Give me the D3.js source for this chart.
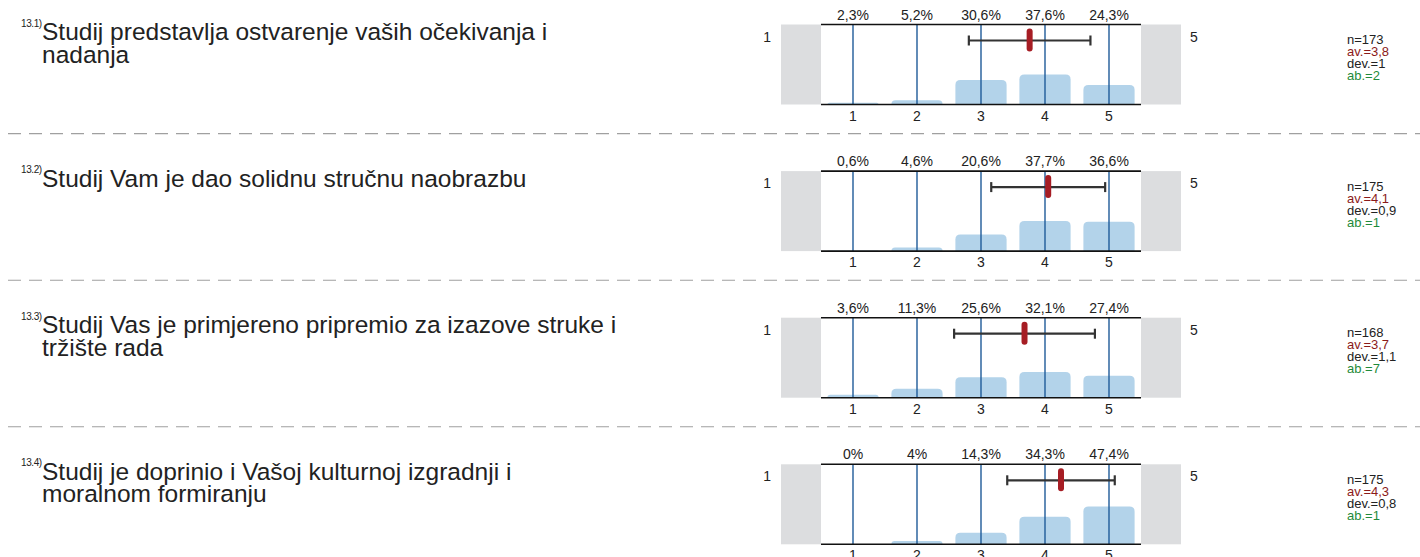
<!DOCTYPE html>
<html>
<head>
<meta charset="utf-8">
<script src="https://cdn.jsdelivr.net/npm/d3@7/dist/d3.min.js"></script>
<style>
  html, body { margin: 0; padding: 0; background: #fff; }
  svg { display: block; font-family: "Liberation Sans", Arial, Helvetica, sans-serif; }
</style>
</head>
<body>
<svg id="chart" width="1420" height="557"></svg>
<script>
// Survey items 13.1 – 13.4 (scale 1–5)
const itemCodes = ["13.1)", "13.2)", "13.3)", "13.4)"];
const itemLines = [
  ["Studij predstavlja ostvarenje vaših očekivanja i", "nadanja"],
  ["Studij Vam je dao solidnu stručnu naobrazbu"],
  ["Studij Vas je primjereno pripremio za izazove struke i", "tržište rada"],
  ["Studij je doprinio i Vašoj kulturnoj izgradnji i", "moralnom formiranju"]
];
const categories = [1, 2, 3, 4, 5];
const percents = [
  [2.3, 5.2, 30.6, 37.6, 24.3],
  [0.6, 4.6, 20.6, 37.7, 36.6],
  [3.6, 11.3, 25.6, 32.1, 27.4],
  [0, 4, 14.3, 34.3, 47.4]
];
const counts = [173, 175, 168, 175];
const means = [3.76, 4.05, 3.68, 4.25];
const deviations = [0.95, 0.89, 1.10, 0.84];
const abstentions = [2, 1, 7, 1];
const scaleEnds = ["1", "5"];

const svg = d3.select("#chart");
const W = 1420;

// layout
const rowStep = 146.6;
const firstTop = 24.5;
const panelH = 80;
const plotX0 = 821, plotX1 = 1141;
const sideW = 40;

const x = d3.scaleBand().domain(categories).range([plotX0, plotX1])
  .paddingInner(0.2).paddingOuter(0.1);
const xMean = d3.scaleLinear().domain([1, 5])
  .range([x(1) + x.bandwidth() / 2, x(5) + x.bandwidth() / 2]);

const fmt = v => {
  const r = Math.round(v * 10) / 10;
  return String(r).replace(".", ",");
};

function topRoundedBar(x0, y0, w, h, r) {
  r = Math.min(r, h, w / 2);
  if (h <= 0) return "";
  return `M${x0},${y0 + h}V${y0 + r}Q${x0},${y0} ${x0 + r},${y0}H${x0 + w - r}Q${x0 + w},${y0} ${x0 + w},${y0 + r}V${y0 + h}Z`;
}

itemCodes.forEach((code, i) => {
  const top = firstTop + i * rowStep;
  const bottom = top + panelH;
  const y = d3.scaleLinear().domain([0, 100]).range([bottom, top]);
  const g = svg.append("g");

  // separator
  if (i > 0) {
    g.append("line")
      .attr("x1", 8).attr("x2", W).attr("y1", top - 37.5).attr("y2", top - 37.5)
      .attr("stroke", "#a0a0a0").attr("stroke-width", 1.1)
      .attr("stroke-dasharray", "13,8");
  }

  // question text
  g.append("text").attr("x", 21).attr("y", top + 2)
    .attr("font-size", 10).attr("letter-spacing", -0.4).attr("fill", "#222").text(code);
  const t = g.append("text").attr("x", 42).attr("y", top + 15.5)
    .attr("font-size", 24.5).attr("fill", "#222");
  itemLines[i].forEach((ln, k) => {
    t.append("tspan").attr("x", 42).attr("dy", k === 0 ? 0 : 22.5).text(ln);
  });

  // gray side boxes
  g.append("rect").attr("x", plotX0 - sideW).attr("y", top).attr("width", sideW).attr("height", panelH)
    .attr("fill", "#dcdddf");
  g.append("rect").attr("x", plotX1).attr("y", top).attr("width", sideW).attr("height", panelH)
    .attr("fill", "#dcdddf");

  // scale end labels
  g.append("text").attr("x", plotX0 - sideW - 10).attr("y", top + 17)
    .attr("text-anchor", "end").attr("font-size", 14).attr("fill", "#222").text(scaleEnds[0]);
  g.append("text").attr("x", plotX1 + sideW + 9).attr("y", top + 17)
    .attr("font-size", 14).attr("fill", "#222").text(scaleEnds[1]);

  // bars
  g.selectAll("path.bar").data(categories).join("path")
    .attr("class", "bar")
    .attr("d", (c, j) => topRoundedBar(x(c), y(percents[i][j]), x.bandwidth(), bottom - y(percents[i][j]), 5))
    .attr("fill", "#b3d3ea");

  // category lines
  g.selectAll("line.cat").data(categories).join("line")
    .attr("class", "cat")
    .attr("x1", c => x(c) + x.bandwidth() / 2).attr("x2", c => x(c) + x.bandwidth() / 2)
    .attr("y1", top).attr("y2", bottom)
    .attr("stroke", "#1f5b99").attr("stroke-width", 1.4);

  // frame lines
  [top, bottom].forEach(yy => {
    g.append("line").attr("x1", plotX0).attr("x2", plotX1).attr("y1", yy).attr("y2", yy)
      .attr("stroke", "#111").attr("stroke-width", 1.6);
  });

  // percentage labels
  g.selectAll("text.pct").data(categories).join("text")
    .attr("class", "pct")
    .attr("x", c => x(c) + x.bandwidth() / 2).attr("y", top - 5)
    .attr("text-anchor", "middle").attr("font-size", 14).attr("fill", "#222")
    .text((c, j) => fmt(percents[i][j]) + "%");

  // category numbers
  g.selectAll("text.cnum").data(categories).join("text")
    .attr("class", "cnum")
    .attr("x", c => x(c) + x.bandwidth() / 2).attr("y", bottom + 16)
    .attr("text-anchor", "middle").attr("font-size", 14).attr("fill", "#222")
    .text(c => c);

  // mean ± deviation
  const ey = top + 16;
  const lo = xMean(means[i] - deviations[i]), hi = xMean(means[i] + deviations[i]);
  g.append("line").attr("x1", lo).attr("x2", hi).attr("y1", ey).attr("y2", ey)
    .attr("stroke", "#333").attr("stroke-width", 2.2);
  [lo, hi].forEach(xx => {
    g.append("line").attr("x1", xx).attr("x2", xx).attr("y1", ey - 5).attr("y2", ey + 5)
      .attr("stroke", "#333").attr("stroke-width", 2.2);
  });
  g.append("rect").attr("x", xMean(means[i]) - 3).attr("y", ey - 12)
    .attr("width", 6).attr("height", 23).attr("rx", 3)
    .attr("fill", "#a61d24");

  // statistics
  const stats = [
    ["n=" + counts[i], "#222"],
    ["av.=" + fmt(means[i]), "#8b1a1a"],
    ["dev.=" + fmt(deviations[i]), "#222"],
    ["ab.=" + abstentions[i], "#1f8a3a"]
  ];
  stats.forEach((s, k) => {
    g.append("text").attr("x", 1347).attr("y", top + 19.5 + k * 12)
      .attr("font-size", 13).attr("fill", s[1]).text(s[0]);
  });
});
</script>
</body>
</html>
